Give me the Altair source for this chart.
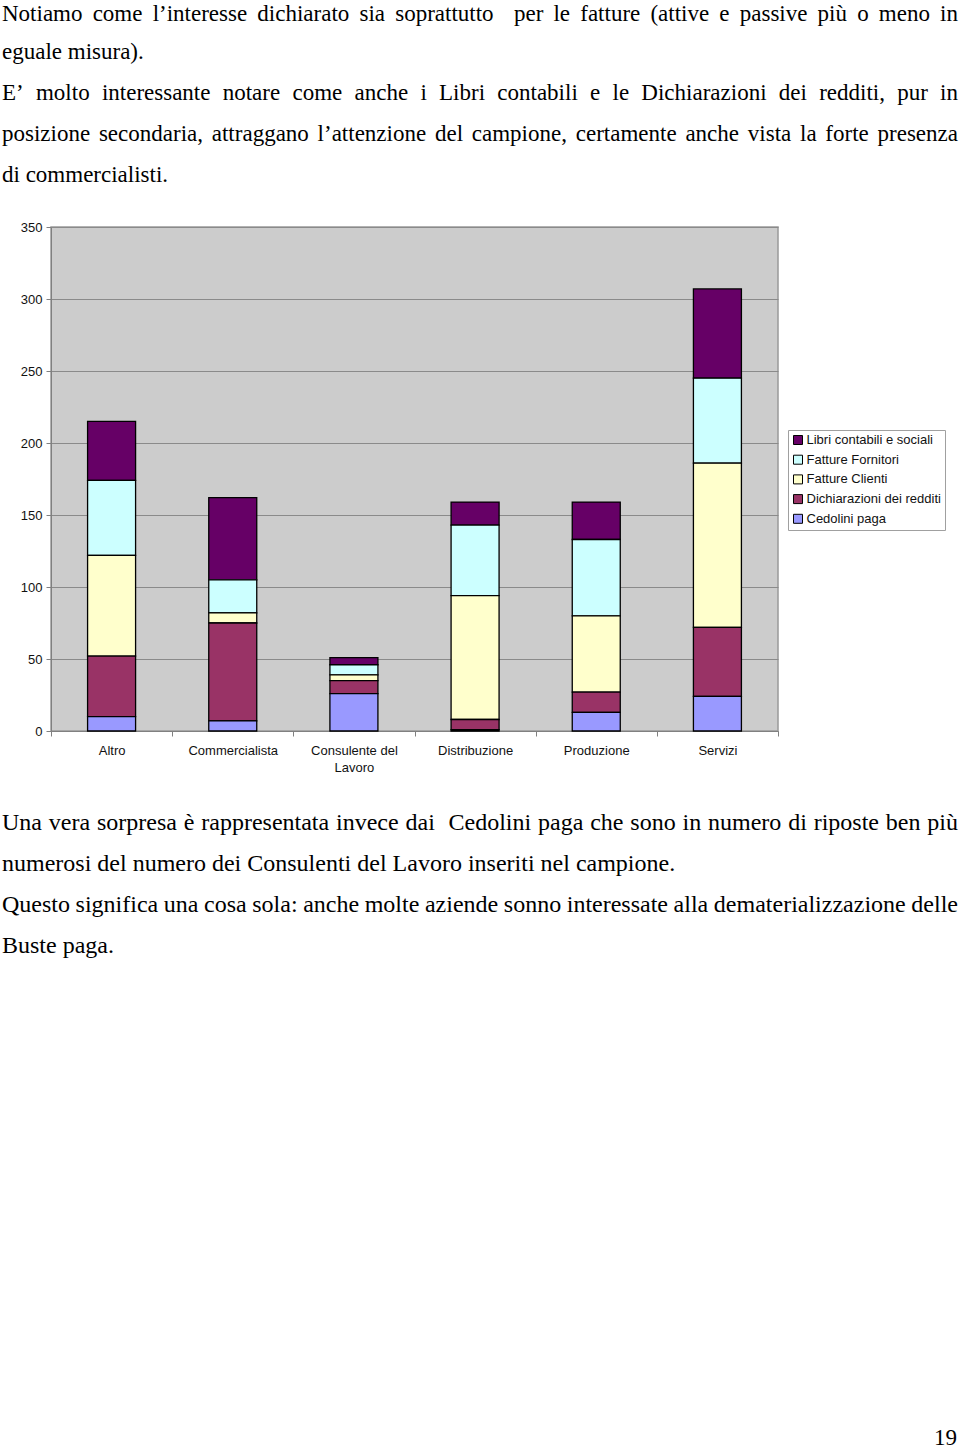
import re
import altair as alt
import pandas as pd

# ---------------- data ----------------
categories = ["Altro", "Commercialista", "Consulente del Lavoro",
              "Distribuzione", "Produzione", "Servizi"]
series = ["Libri contabili e sociali", "Fatture Fornitori", "Fatture Clienti",
          "Dichiarazioni dei redditi", "Cedolini paga"]
colors = ["#660066", "#CCFFFF", "#FFFFCC", "#993366", "#9999FF"]

libri = [41, 57, 5, 16, 26, 62]
fornitori = [52, 23, 7, 49, 53, 59]
clienti = [70, 7, 4, 86, 53, 114]
dichiarazioni = [42, 68, 9, 7, 14, 48]
cedolini = [10, 7, 26, 1, 13, 24]

y_ticks = [0, 50, 100, 150, 200, 250, 300, 350]

top_lines = [
    ("Notiamo come l’interesse dichiarato sia soprattutto  per le fatture (attive e passive più o meno in", True),
    ("eguale misura).", False),
    ("E’ molto interessante notare come anche i Libri contabili e le Dichiarazioni dei redditi, pur in", True),
    ("posizione secondaria, attraggano l’attenzione del campione, certamente anche vista la forte presenza", True),
    ("di commercialisti.", False),
]
bottom_lines = [
    ("Una vera sorpresa è rappresentata invece dai  Cedolini paga che sono in numero di riposte ben più", True),
    ("numerosi del numero dei Consulenti del Lavoro inseriti nel campione.", False),
    ("Questo significa una cosa sola: anche molte aziende sonno interessate alla dematerializzazione delle", True),
    ("Buste paga.", False),
]
page_number = "19"

# ---------------- page layout ----------------
PAGE_W, PAGE_H = 960, 1451
PLOT_L, PLOT_T, PLOT_R, PLOT_B = 51, 227, 778, 731
FS_TOP = 23
FS_BOTTOM = 24
TEXT_X0, TEXT_X1 = 2, 958
top_baselines = [21, 59, 100, 141, 182]
bottom_baselines = [830, 871, 912, 953]

# Times metrics (per 1000 em) used to justify lines
W = dict(zip("abcdefghijklmnopqrstuvwxyz",
             [444, 500, 444, 500, 444, 333, 500, 500, 278, 278, 500, 278, 778,
              500, 500, 500, 500, 333, 389, 278, 500, 500, 722, 500, 500, 444]))
W.update(dict(zip("ABCDEFGHIJKLMNOPQRSTUVWXYZ",
                  [722, 667, 667, 722, 611, 556, 722, 722, 333, 389, 722, 611, 889,
                   722, 722, 556, 722, 667, 556, 611, 722, 722, 944, 722, 722, 611])))
W.update({" ": 250, "’": 333, "(": 333, ")": 333, ".": 250, ",": 250, ":": 278,
          "è": 444, "ù": 500, "à": 444, "ì": 278, "ò": 500})
for d in "0123456789":
    W[d] = 500


def tw(s, fs):
    return sum(W.get(c, 500) for c in s) * fs / 1000.0


rows = []


def add_line(line, justify, baseline, fs):
    if not justify:
        rows.append({"t": line, "px": TEXT_X0, "py": baseline, "fs": fs})
        return
    parts = re.split(r"( +)", line)
    words = parts[0::2]
    runs = [len(p) for p in parts[1::2]]
    natural = sum(tw(w, fs) for w in words) + sum(runs) * tw(" ", fs)
    extra = (TEXT_X1 - TEXT_X0 - natural) / sum(runs)
    x = TEXT_X0
    for i, w in enumerate(words):
        rows.append({"t": w, "px": x, "py": baseline, "fs": fs})
        x += tw(w, fs)
        if i < len(runs):
            x += runs[i] * (tw(" ", fs) + extra)


for (ln, j), b in zip(top_lines, top_baselines):
    add_line(ln, j, b, FS_TOP)
for (ln, j), b in zip(bottom_lines, bottom_baselines):
    add_line(ln, j, b, FS_BOTTOM)
rows.append({"t": page_number, "px": 957 - tw(page_number, FS_TOP), "py": 1445, "fs": FS_TOP})
text_df = pd.DataFrame(rows)

# ---------------- bar data ----------------
values = [libri, fornitori, clienti, dichiarazioni, cedolini]
recs = []
for s_i, (s, vals) in enumerate(zip(series, values)):
    for c, v in zip(categories, vals):
        recs.append({"category": c, "series": s, "value": v, "ord": len(series) - s_i})
df = pd.DataFrame(recs)

plot_w = PLOT_R - PLOT_L
plot_h = PLOT_B - PLOT_T

label_expr = ("datum.label == 'Consulente del Lavoro' ? "
              "['Consulente del', 'Lavoro'] : datum.label")

bars = alt.Chart(df).mark_bar(size=48, stroke="black", strokeWidth=1.3).encode(
    x=alt.X("category:N", sort=categories, title=None,
            scale=alt.Scale(paddingInner=0, paddingOuter=0),
            axis=alt.Axis(labelAngle=0, labelExpr=label_expr, tickBand="extent",
                          tickSize=5, tickColor="#808080", domainColor="#808080",
                          labelPadding=8, labelFont="Liberation Sans", labelFontSize=13,
                          labelColor="#111111", labelLineHeight=17, grid=False)),
    y=alt.Y("value:Q", stack="zero", title=None,
            scale=alt.Scale(domain=[0, 350], nice=False, zero=True),
            axis=alt.Axis(values=y_ticks, tickSize=5, tickColor="#808080",
                          domainColor="#808080", gridColor="#8a8a8a", grid=True,
                          labelPadding=4, labelFont="Liberation Sans", labelFontSize=13,
                          labelColor="#111111")),
    color=alt.Color("series:N", scale=alt.Scale(domain=series, range=colors),
                    legend=alt.Legend(title=None, orient="none",
                                      legendX=788 - PLOT_L, legendY=430 - PLOT_T,
                                      symbolType="square", symbolSize=81,
                                      symbolStrokeColor="black", symbolStrokeWidth=1,
                                      symbolOpacity=1,
                                      labelFont="Liberation Sans", labelFontSize=13,
                                      labelColor="#111111", labelOffset=2,
                                      rowPadding=5.7, padding=3.5,
                                      strokeColor="#a0a0a0", fillColor="white")),
    order=alt.Order("ord:Q", sort="ascending"),
)

text_layer = alt.Chart(text_df).mark_text(
    align="left", baseline="alphabetic", font="Liberation Serif", color="black"
).encode(
    x=alt.X("px:Q", axis=None,
            scale=alt.Scale(domain=[0, PAGE_W], range=[-PLOT_L, PAGE_W - PLOT_L],
                            nice=False, zero=False)),
    y=alt.Y("py:Q", axis=None,
            scale=alt.Scale(domain=[0, PAGE_H], range=[-PLOT_T, PAGE_H - PLOT_T],
                            nice=False, zero=False)),
    size=alt.Size("fs:Q", scale=None, legend=None),
    text="t:N",
)

chart = alt.layer(bars, text_layer).resolve_scale(
    x="independent", y="independent", color="independent"
).properties(
    width=plot_w, height=plot_h,
    padding={"left": PLOT_L, "top": PLOT_T, "right": PAGE_W - PLOT_R,
             "bottom": PAGE_H - PLOT_B},
    autosize=alt.AutoSizeParams(type="none"),
    background="white",
).configure_view(fill="#CCCCCC", stroke="#999999", strokeWidth=1.5)

chart.save("out.html", embed_options={"renderer": "svg", "actions": False})
